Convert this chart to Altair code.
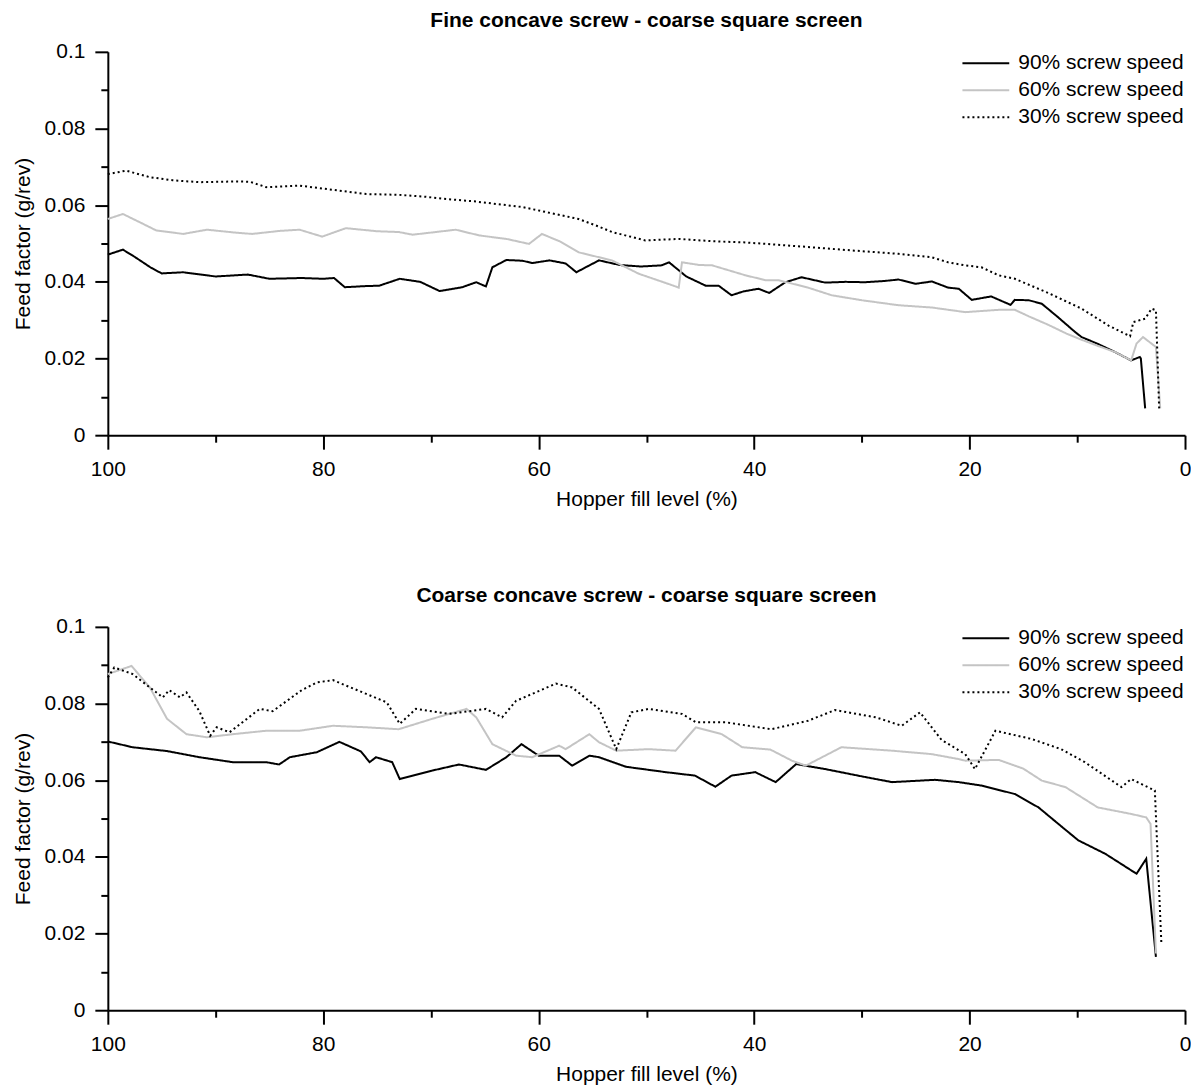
import altair as alt
import pandas as pd

SERIES = ["90% screw speed", "60% screw speed", "30% screw speed"]
TITLES = ["Fine concave screw - coarse square screen",
          "Coarse concave screw - coarse square screen"]

# ---- Panel 1: Fine concave screw ----
fine90_x = [100, 98.6, 97.5, 96, 95, 93, 90, 87, 85, 82, 80, 79, 78, 76, 74.8, 72.9, 71, 69.2, 67.1,
            65.8, 64.9, 64.3, 63, 61.5, 60.6, 59, 57.5, 56.5, 55.5, 54.4, 52.5, 50.5, 48.6, 47.9, 46.3,
            44.5, 43.3, 42.1, 41, 39.6, 38.6, 37.1, 35.6, 33.4, 31.5, 29.7, 28, 26.6, 25, 23.5, 22, 21,
            19.8, 18, 16.2, 15.8, 14.5, 13.3, 11.8, 10.2, 9.6, 8, 6.5, 5, 4.2, 4.1, 3.7]
fine90_y = [0.0471, 0.0484, 0.0465, 0.0437, 0.0422, 0.0425, 0.0414, 0.0419, 0.0408, 0.041, 0.0408,
            0.041, 0.0386, 0.0389, 0.039, 0.0408, 0.040, 0.0376, 0.0386, 0.0399, 0.0388, 0.0438, 0.0457,
            0.0455, 0.0449, 0.0456, 0.0448, 0.0425, 0.044, 0.0456, 0.0444, 0.044, 0.0443, 0.0451, 0.0414,
            0.039, 0.039, 0.0365, 0.0375, 0.0382, 0.0371, 0.0399, 0.0412, 0.0398, 0.040, 0.0399, 0.0402,
            0.0406, 0.0395, 0.0401, 0.0385, 0.0382, 0.0353, 0.0362, 0.034, 0.0353, 0.0352, 0.0343, 0.0308,
            0.0269, 0.0256, 0.0237, 0.0217, 0.0195, 0.0204, 0.020, 0.007]

fine60_x = [100, 98.6, 97, 95.5, 93, 90.8, 88, 86.6, 84, 82.2, 80.1, 77.9, 75, 73, 71.7, 67.7, 65.5,
            63, 60.9, 59.7, 58, 56.3, 53.2, 50.7, 48, 47, 46.7, 45.1, 43.9, 40.8, 38.9, 37.7, 35, 32.8,
            30, 26.6, 23.5, 20.4, 17.3, 15.8, 14.5, 12.7, 11, 9.6, 8, 6.5, 5, 4.5, 3.9, 2.7, 2.3]
fine60_y = [0.0564, 0.0577, 0.0555, 0.0534, 0.0525, 0.0536, 0.0528, 0.0525, 0.0533, 0.0536, 0.0518,
            0.054, 0.0532, 0.053, 0.0523, 0.0536, 0.0521, 0.0512, 0.0499, 0.0525, 0.0505, 0.0477, 0.0456,
            0.0421, 0.0395, 0.0385, 0.0451, 0.0444, 0.0443, 0.0417, 0.0404, 0.0404, 0.0385, 0.0365,
            0.0352, 0.0339, 0.0333, 0.0321, 0.0327, 0.0327, 0.031, 0.0288, 0.0265, 0.0249, 0.0232,
            0.0217, 0.0195, 0.0239, 0.0256, 0.023, 0.007]

fine30_x = [100, 98.3, 96.1, 94, 91.5, 88, 86.8, 85.3, 82.2, 79.1, 76, 73, 70.5, 68.6, 66, 63.9, 61.5,
            59.3, 56.3, 54.5, 53.2, 50.1, 47, 43.9, 41, 38.9, 35.5, 32.8, 30, 26.6, 23.5, 22, 20.4,
            18.9, 17.3, 15.8, 12.7, 9.6, 7.1, 5.1, 4.8, 3.7, 3.1, 2.7, 2.4]
fine30_y = [0.0681, 0.069, 0.0673, 0.0665, 0.066, 0.0662, 0.0661, 0.0647, 0.0651, 0.064, 0.0629,
            0.0627, 0.0622, 0.0616, 0.061, 0.0603, 0.0595, 0.0582, 0.0564, 0.0545, 0.053, 0.0508,
            0.0512, 0.0506, 0.0503, 0.0499, 0.0492, 0.0486, 0.048, 0.0473, 0.0464, 0.0451, 0.0443,
            0.0438, 0.0417, 0.0408, 0.0371, 0.033, 0.0286, 0.0258, 0.0295, 0.0304, 0.033, 0.0326, 0.007]

# ---- Panel 2: Coarse concave screw ----
coarse90_x = [100, 97.7, 94.5, 91.5, 88.4, 85.3, 84.1, 83.1, 80.6, 78.5, 76.5, 75.7, 75.1, 73.6, 72.9,
              69.9, 67.4, 64.9, 63, 61.6, 60, 58.1, 56.9, 55.3, 54.4, 51.9, 48.2, 45.5, 43.6, 42.1,
              39.9, 38, 36.1, 33.4, 30, 27.2, 23.2, 21, 18.9, 15.8, 13.6, 11.5, 9.9, 7.4, 4.5, 3.6, 2.7]
coarse90_y = [0.0701, 0.0686, 0.0676, 0.066, 0.0647, 0.0647, 0.0641, 0.066, 0.0673, 0.070, 0.0675,
              0.0647, 0.066, 0.0647, 0.0603, 0.0625, 0.0641, 0.0627, 0.066, 0.0694, 0.0664, 0.0664,
              0.0638, 0.0664, 0.066, 0.0635, 0.0621, 0.0612, 0.0583, 0.0612, 0.0621, 0.0595, 0.0642,
              0.0629, 0.061, 0.0595, 0.0601, 0.0595, 0.0586, 0.0564, 0.0529, 0.048, 0.0443, 0.0408,
              0.0356, 0.0395, 0.0139]

coarse60_x = [100, 97.8, 96.1, 94.5, 92.7, 90.8, 88.4, 85.3, 82.2, 79.1, 76, 73, 69.9, 66.7, 65.8, 64.3,
              62.1, 60.6, 58.1, 57.5, 55.3, 54.4, 52.8, 49.8, 47.3, 45.4, 43, 41.1, 38.5, 36.5, 35.2,
              31.9, 27.2, 23.5, 21, 20.4, 17.3, 15, 13.3, 11.1, 8.1, 5, 3.6, 3.2, 2.7]
coarse60_y = [0.0877, 0.0898, 0.0842, 0.076, 0.072, 0.0712, 0.072, 0.0729, 0.0729, 0.0742, 0.0738,
              0.0733, 0.076, 0.0786, 0.0764, 0.0694, 0.0664, 0.066, 0.069, 0.0681, 0.072, 0.0699,
              0.0677, 0.0681, 0.0677, 0.0738, 0.072, 0.0686, 0.068, 0.0651, 0.0638, 0.0686, 0.0677,
              0.0668, 0.0655, 0.0651, 0.0653, 0.063, 0.0599, 0.0582, 0.0529, 0.0512, 0.0503, 0.0486,
              0.0148]

coarse30_x = [100, 99.4, 97.7, 96.1, 94.9, 94.3, 93.3, 92.7, 91.5, 90.5, 89.9, 88.7, 85.9, 84.7, 82,
              80.6, 79.1, 76, 74.1, 72.9, 71.4, 68.3, 64.9, 63.4, 62.1, 58.4, 56.9, 54.4, 52.8, 51.4,
              49.8, 46.7, 45.4, 42.6, 38.4, 35, 32.5, 28.7, 26.3, 24.6, 22.6, 20.4, 19.5, 17.6, 14.3,
              11.5, 9.3, 5.9, 5, 2.8, 2.2]
coarse30_y = [0.0868, 0.0894, 0.0877, 0.0842, 0.0816, 0.0835, 0.0816, 0.0829, 0.078, 0.0716, 0.0738,
              0.0725, 0.0786, 0.078, 0.0835, 0.0855, 0.0861, 0.0825, 0.0803, 0.0747, 0.0786, 0.0773,
              0.0786, 0.0764, 0.0807, 0.0852, 0.0842, 0.0786, 0.0681, 0.0777, 0.0786, 0.0773, 0.0751,
              0.0751, 0.0733, 0.0755, 0.0783, 0.0764, 0.0742, 0.0777, 0.0705, 0.0668, 0.0629, 0.0729,
              0.0708, 0.0681, 0.0647, 0.0582, 0.0603, 0.0573, 0.0178]

X_TICKS = [0, 10, 20, 30, 40, 50, 60, 70, 80, 90, 100]
Y_TICKS = [0, 0.01, 0.02, 0.03, 0.04, 0.05, 0.06, 0.07, 0.08, 0.09, 0.1]


def frame(series_list):
    rows = []
    for name, xs, ys in series_list:
        for i, (a, b) in enumerate(zip(xs, ys)):
            rows.append({"speed": name, "fill": a, "ff": b, "idx": i})
    return pd.DataFrame(rows)


df_fine = frame([(SERIES[0], fine90_x, fine90_y), (SERIES[1], fine60_x, fine60_y),
                 (SERIES[2], fine30_x, fine30_y)])
df_coarse = frame([(SERIES[0], coarse90_x, coarse90_y), (SERIES[1], coarse60_x, coarse60_y),
                   (SERIES[2], coarse30_x, coarse30_y)])

FONT = "Liberation Sans"


def panel(df, title):
    return alt.Chart(df, title=alt.TitleParams(
        title, fontSize=21, fontWeight="bold", font=FONT, anchor="middle",
        frame="group", offset=10)).mark_line(strokeWidth=2).encode(
        x=alt.X("fill:Q", title="Hopper fill level (%)",
                scale=alt.Scale(domain=[0, 100], reverse=True, nice=False),
                axis=alt.Axis(values=X_TICKS, format="d", labelFlush=False,
                              labelExpr="datum.value % 20 === 0 ? datum.label : ''",
                              tickSize={"condition": {"test": "datum.value % 20 === 0", "value": 14},
                                        "value": 7},
                              labelPadding=9, titlePadding=9)),
        y=alt.Y("ff:Q", title="Feed factor (g/rev)",
                scale=alt.Scale(domain=[0, 0.1], nice=False),
                axis=alt.Axis(values=Y_TICKS, labelFlush=False,
                              labelExpr="round(datum.value*100) % 2 === 0 ? format(datum.value, '~g') : ''",
                              tickSize={"condition": {"test": "round(datum.value*100) % 2 === 0", "value": 13},
                                        "value": 7},
                              labelPadding=10, titlePadding=11)),
        color=alt.Color("speed:N", sort=SERIES,
                        scale=alt.Scale(domain=SERIES, range=["#000000", "#c4c4c4", "#000000"]),
                        legend=alt.Legend(title=None, orient="top-right", offset=1)),
        strokeDash=alt.StrokeDash("speed:N", sort=SERIES,
                                  scale=alt.Scale(domain=SERIES, range=[[1, 0], [1, 0], [2, 3]]),
                                  legend=alt.Legend(title=None, orient="top-right", offset=1)),
        order=alt.Order("idx:Q"),
    ).properties(width=1079, height=384)


chart = alt.vconcat(panel(df_fine, TITLES[0]), panel(df_coarse, TITLES[1]), spacing=76).resolve_scale(
    color="independent", strokeDash="independent").resolve_legend(
    color="independent", strokeDash="independent").configure_axis(
    grid=False, domainColor="black", domainWidth=2, tickColor="black", tickWidth=2,
    labelFont=FONT, titleFont=FONT, labelFontSize=21, titleFontSize=21,
    titleFontWeight="normal", labelColor="black", titleColor="black").configure_legend(
    labelFont=FONT, labelFontSize=21, labelColor="black", labelLimit=0, symbolType="stroke",
    symbolSize=2200, symbolStrokeWidth=2, clipHeight=21, rowPadding=5, labelOffset=8,
    padding=0).configure_view(
    stroke=None).properties(padding={"left": 4, "top": 1, "right": 0, "bottom": 0})

chart.save("out.html", embed_options={"renderer": "svg", "actions": False})
